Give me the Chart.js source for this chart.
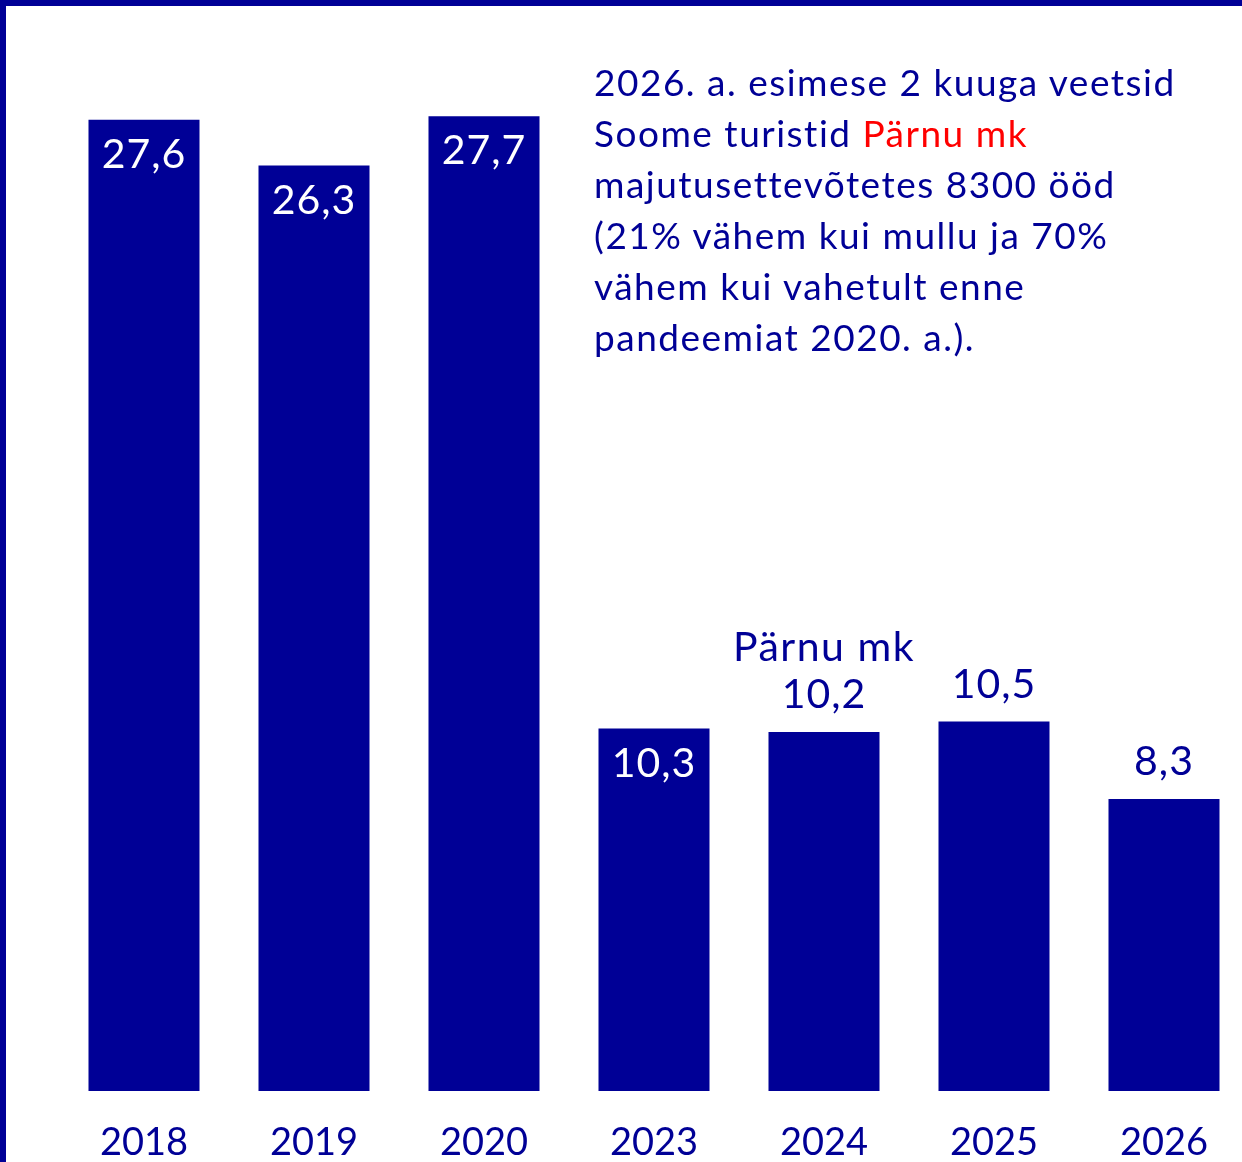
<!DOCTYPE html>
<html lang="et">
<head>
<meta charset="UTF-8">
<script src="https://cdn.jsdelivr.net/npm/chart.js@4/dist/chart.umd.min.js"></script>
<style>
  body { margin: 0; overflow: hidden; background: #fff; font-family: Lato, sans-serif; }
  #wrap { position: absolute; left: 0; top: 0; width: 1250px; height: 1162px; }
  #frame { position: fixed; left: 0; top: 0; width: 1242px; height: 1162px; box-sizing: border-box;
           border-top: 6px solid #000096; border-left: 6px solid #000096; pointer-events: none; }
  #note { position: absolute; left: 594px; top: 56px; font-size: 37px; line-height: 51px;
          letter-spacing: 1.5px; color: #000096; white-space: nowrap; }
  #note .red { color: #ff0000; }
</style>
</head>
<body>
<div id="wrap"><canvas id="chart"></canvas></div>
<div id="note">2026. a. esimese 2 kuuga veetsid<br>Soome turistid <span class="red">Pärnu mk</span><br>majutusettevõtetes 8300 ööd<br>(21% vähem kui mullu ja 70%<br>vähem kui vahetult enne<br>pandeemiat 2020. a.).</div>
<div id="frame"></div>
<script>
  // aastad ja ööbimised (tuhat)
  var aastad = ["2018", "2019", "2020", "2023", "2024", "2025", "2026"];
  var oobimised = [27.6, 26.3, 27.7, 10.3, 10.2, 10.5, 8.3];
  var sildid = ["27,6", "26,3", "27,7", "10,3", "10,2", "10,5", "8,3"];
  var lisaSilt = "Pärnu mk"; // 2024 tulba kohal
  var lisaSildiIndeks = 4;

  var sinine = "#000096";

  // väärtused tulpade peale / sisse
  var sildiPlugin = {
    id: "sildid",
    afterDatasetsDraw: function (chart) {
      var ctx = chart.ctx;
      var bars = chart.getDatasetMeta(0).data;
      ctx.save();
      ctx.textAlign = "center";
      ctx.textBaseline = "middle";
      ctx.letterSpacing = "1px";
      bars.forEach(function (bar, i) {
        ctx.font = "400 41px Lato";
        if (i < 4) {
          ctx.fillStyle = "#ffffff";
          ctx.fillText(sildid[i], bar.x, bar.y + 35);
        } else {
          ctx.fillStyle = sinine;
          ctx.fillText(sildid[i], bar.x, bar.y - 37);
        }
        if (i === lisaSildiIndeks) {
          ctx.font = "400 41px Lato";
          ctx.letterSpacing = "1.5px";
          ctx.fillText(lisaSilt, bar.x, bar.y - 84);
          ctx.letterSpacing = "1px";
        }
      });
      ctx.restore();
    }
  };

  var canvas = document.getElementById("chart");
  canvas.width = 1250;
  canvas.height = 1162;

  new Chart(canvas.getContext("2d"), {
    type: "bar",
    data: {
      labels: aastad,
      datasets: [{
        data: oobimised,
        backgroundColor: sinine,
        borderWidth: 0,
        categoryPercentage: 1,
        barPercentage: 0.653
      }]
    },
    options: {
      responsive: false,
      animation: false,
      devicePixelRatio: 1,
      layout: { padding: { left: 59, right: 1, top: 0, bottom: 0 } },
      plugins: { legend: { display: false }, tooltip: { enabled: false } },
      scales: {
        y: { display: false, min: 0, max: 31 },
        x: {
          grid: { display: false },
          border: { display: false },
          ticks: { color: sinine, font: { family: "Lato", size: 38 }, padding: 21, maxRotation: 0 },
          afterFit: function (s) { s.height = 71; }
        }
      }
    },
    plugins: [sildiPlugin]
  });
</script>
</body>
</html>
